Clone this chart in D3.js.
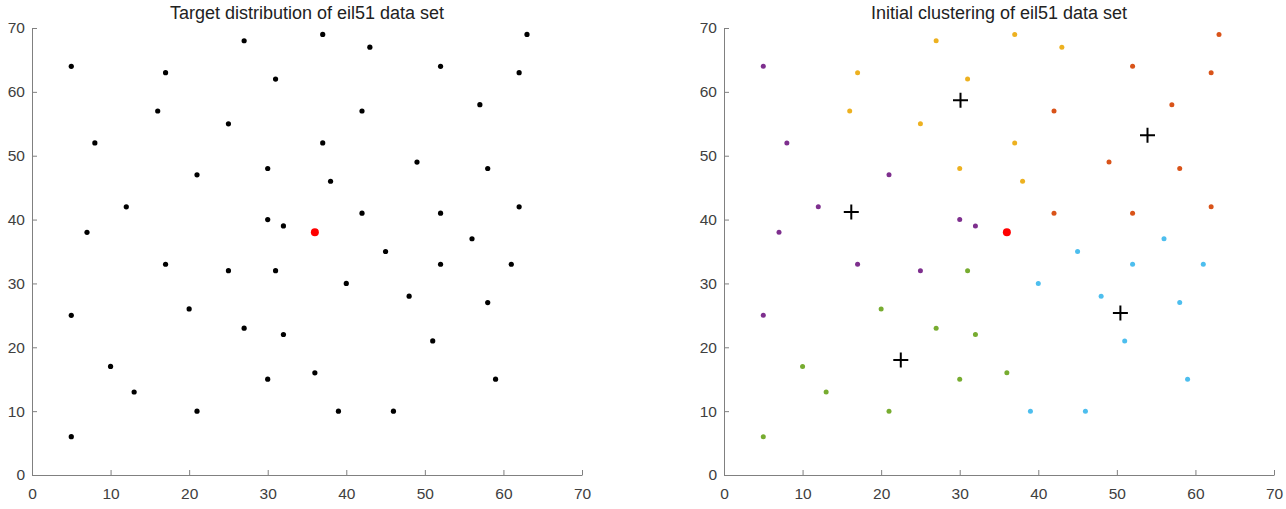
<!DOCTYPE html>
<html><head><meta charset="utf-8">
<script src="https://cdn.jsdelivr.net/npm/d3@7"></script>
<style>body{margin:0;background:#fff}svg{display:block}</style>
</head><body>
<svg id="c" width="1286" height="509"></svg>
<script>
// eil51 city coordinates
const cityX = [37,49,52,20,40,21,17,31,52,51,42,31,5,12,36,52,27,17,13,57,62,42,16,8,7,27,30,43,58,58,37,38,46,61,62,63,32,45,59,5,10,21,5,30,39,32,25,25,48,56,30];
const cityY = [52,49,64,26,30,47,63,62,33,21,41,32,25,42,16,41,23,33,13,58,42,57,57,52,38,68,48,67,48,27,69,46,10,33,63,69,22,35,15,6,17,10,64,15,10,39,32,55,28,37,40];
// cluster index per city (0 purple,1 orange,2 red,3 cyan,4 green)
const cityCluster = [1,2,2,4,3,0,1,1,3,3,2,4,0,0,4,2,4,0,4,2,2,2,1,0,0,1,1,1,2,3,1,1,3,3,2,2,4,3,3,4,4,4,0,4,3,0,0,1,3,3,0];
const depot = [36, 38];
const centerX = [16.2, 30.1, 53.9, 50.45, 22.5];
const centerY = [41.2, 58.7, 53.2, 25.36, 18];
const clusterColors = ["#7E2F8E","#EDB120","#D95319","#4DBEEE","#77AC30"];
const ticks = [0,10,20,30,40,50,60,70];
const titles = ["Target distribution of eil51 data set","Initial clustering of eil51 data set"];

const svg = d3.select("#c");
const panels = [{x0:32,x1:582},{x0:724,x1:1274}];
const yTop = 28, yBot = 475;
const font = "'Liberation Sans', Arial, sans-serif";

panels.forEach((p, i) => {
  const x = d3.scaleLinear().domain([0,70]).range([p.x0, p.x1]);
  const y = d3.scaleLinear().domain([0,70]).range([yBot, yTop]);
  const g = svg.append("g");
  const xa = g.append("g").attr("transform", `translate(0,${yBot})`)
    .call(d3.axisBottom(x).tickValues(ticks).tickSizeInner(-5).tickSizeOuter(0).tickPadding(13));
  const ya = g.append("g").attr("transform", `translate(${p.x0},0)`)
    .call(d3.axisLeft(y).tickValues(ticks).tickSizeInner(-5).tickSizeOuter(0).tickPadding(7));
  [xa, ya].forEach(a => {
    a.select(".domain").attr("stroke", "#808080").attr("stroke-width", 1);
    a.selectAll(".tick line").attr("stroke", "#808080");
    a.selectAll(".tick text").attr("fill", "#404040").style("font-family", font).style("font-size", "15.5px");
  });
  g.append("text").attr("x", (p.x0+p.x1)/2).attr("y", 19).attr("text-anchor","middle")
    .style("font-family", font).style("font-size","18px").attr("fill","#222").text(titles[i]);

  g.selectAll("circle.city").data(cityX.map((v,k)=>k)).enter().append("circle")
    .attr("cx", k => x(cityX[k])).attr("cy", k => y(cityY[k]))
    .attr("r", i === 0 ? 2.6 : 2.5)
    .attr("fill", k => i === 0 ? "#000" : clusterColors[cityCluster[k]]);
  g.append("circle").attr("cx", x(depot[0])).attr("cy", y(depot[1])).attr("r", 4).attr("fill", "#ff0000");
  if (i === 1) {
    centerX.forEach((cx, k) => {
      const px = x(cx), py = y(centerY[k]);
      g.append("path").attr("d", `M${px-7.5},${py}H${px+7.5}M${px},${py-7.5}V${py+7.5}`)
        .attr("stroke","#000").attr("stroke-width",2);
    });
  }
});
</script>
</body></html>
